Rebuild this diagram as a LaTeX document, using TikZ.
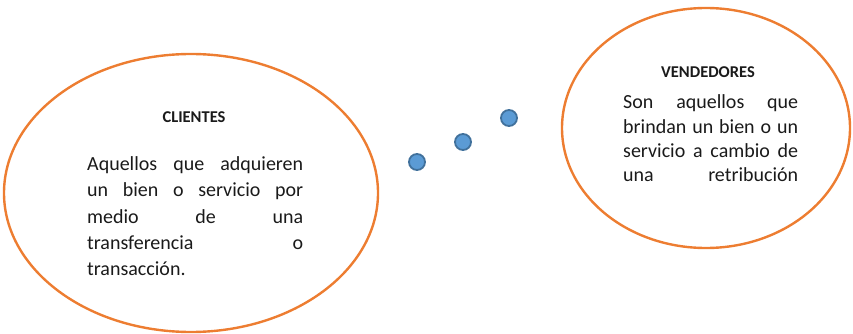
\documentclass[tikz,border=0pt]{standalone}
\usepackage{fontspec}
\setmainfont{Carlito}
\usetikzlibrary{shapes.geometric}
\definecolor{oval}{HTML}{ED7D31}
\definecolor{dotfill}{HTML}{5B9BD5}
\definecolor{dotline}{HTML}{41719C}
\definecolor{ink}{HTML}{1A1A1A}
\tikzset{
  bubble/.style={draw=oval, line width=2.4pt, ellipse, inner sep=0pt},
  dotnode/.style={circle, fill=dotfill, draw=dotline, line width=1.8pt, minimum size=16pt, inner sep=0pt},
  head/.style={font=\fontsize{16.5}{19}\selectfont\bfseries, text=ink, anchor=base, inner sep=0pt},
  body/.style={font=\fontsize{20}{24}\selectfont, text=ink, anchor=base west, inner sep=0pt}
}
\newcommand{\jline}[2]{\hbox to #1{#2}}
\begin{document}
\begin{tikzpicture}[x=1pt,y=-1pt]
\useasboundingbox (0,0) rectangle (853,334);
\begin{scope}
\clip (0,0) rectangle (853,334);
\node[bubble, minimum width=374pt, minimum height=278pt] (clientes) at (191,193) {};
\node[bubble, minimum width=288pt, minimum height=240pt] (vendedores) at (706,128) {};
\end{scope}
\node[dotnode] (d1) at (417,162) {};
\node[dotnode] (d2) at (463,142) {};
\node[dotnode] (d3) at (509,118) {};
% left text
\node[head] (h1) at (194,123) {CLIENTES};
\node[body] (c1) at (87,170) {\jline{216pt}{Aquellos\hfill que\hfill adquieren}};
\node[body] (c2) at (87,196.5) {\jline{216pt}{un\hfill bien\hfill o\hfill servicio\hfill por}};
\node[body] (c3) at (87,223) {\jline{216pt}{medio\hfill de\hfill una}};
\node[body] (c4) at (87,249) {\jline{216pt}{transferencia\hfill o}};
\node[body] (c5) at (87,275) {transacción.};
% right text
\node[head] (h2) at (708,78) {VENDEDORES};
\node[body] (v1) at (623,109) {\jline{175pt}{Son\hfill aquellos\hfill que}};
\node[body] (v2) at (623,133) {\jline{175pt}{brindan\hfill un\hfill bien\hfill o\hfill un}};
\node[body] (v3) at (623,157) {\jline{175pt}{servicio\hfill a\hfill cambio\hfill de}};
\node[body] (v4) at (623,181.5) {\jline{175pt}{una\hfill retribución}};
\end{tikzpicture}
\end{document}
